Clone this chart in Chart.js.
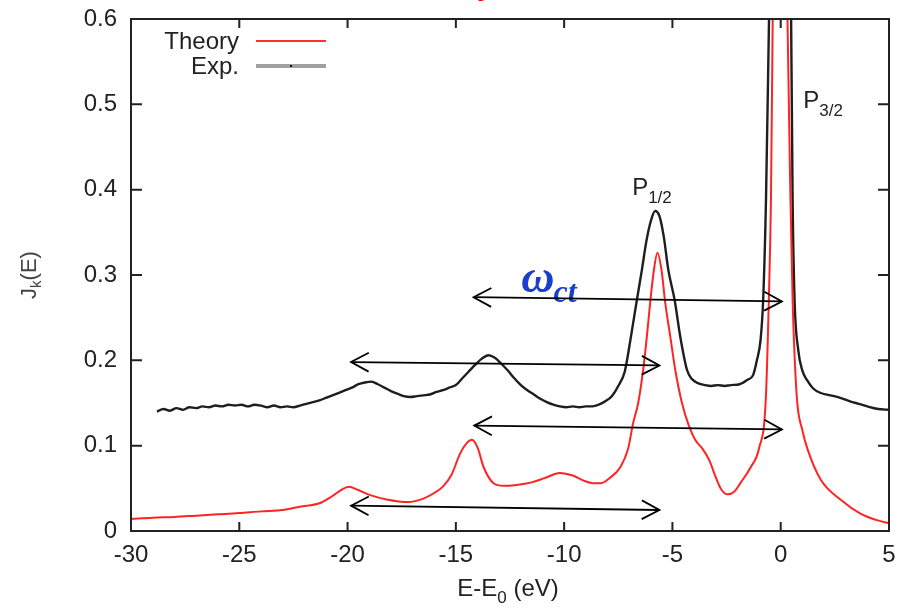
<!DOCTYPE html>
<html>
<head>
<meta charset="utf-8">
<script src="https://cdn.jsdelivr.net/npm/chart.js@4.4.1/dist/chart.umd.min.js"></script>
<style>
  html, body { margin: 0; padding: 0; background: #fff; }
</style>
</head>
<body>
<canvas id="myChart" width="900" height="609"></canvas>
<script>
/* 축 눈금 */
var xTicks = [-30, -25, -20, -15, -10, -5, 0, 5];
var yTicks = [0, 0.1, 0.2, 0.3, 0.4, 0.5, 0.6];
var yTickLabels = ['0', '0.1', '0.2', '0.3', '0.4', '0.5', '0.6'];

/* Theory (계산값) */
var theoryE = [-30, -29, -28, -27, -26, -25, -24, -23, -22.2, -21.3, -20.7, -20.3, -19.95, -19.5, -18.95,
  -18.2, -17.2, -16.5, -16.0, -15.6, -15.2, -14.8, -14.5, -14.26, -14.0, -13.72, -13.26, -12.8, -12.2,
  -11.5, -10.9, -10.2, -9.6, -9.1, -8.65, -8.3, -7.9, -7.4, -7.05, -6.81, -6.58, -6.35, -6.18, -6.03,
  -5.86, -5.69, -5.5, -5.33, -5.1, -4.87, -4.56, -4.25, -3.95, -3.6, -3.3, -3.0, -2.75, -2.45, -2.15,
  -1.84, -1.38, -1.0, -0.69, -0.55, -0.45, -0.37, -0.2, 0, 0.15, 0.3, 0.45, 0.55, 0.74, 1.0, 1.25,
  1.85, 2.8, 3.7, 4.4, 5.0];
var theoryJ = [0.014, 0.0155, 0.0165, 0.018, 0.0195, 0.021, 0.023, 0.0245, 0.0285, 0.0325, 0.041, 0.048, 0.052, 0.048, 0.042,
  0.037, 0.034, 0.038, 0.0445, 0.052, 0.066, 0.091, 0.103, 0.107, 0.098, 0.075, 0.056, 0.053, 0.054,
  0.057, 0.062, 0.068, 0.065, 0.059, 0.056, 0.056, 0.062, 0.075, 0.096, 0.127, 0.150, 0.189, 0.228, 0.267,
  0.305, 0.326, 0.305, 0.267, 0.228, 0.189, 0.150, 0.124, 0.107, 0.096, 0.083, 0.063, 0.049, 0.043, 0.046,
  0.057, 0.075, 0.097, 0.154, 0.27, 0.39, 0.60, 1.0, 1.4, 1.0, 0.62, 0.39, 0.27, 0.158, 0.118, 0.095,
  0.060, 0.036, 0.020, 0.013, 0.009];

/* Exp. (측정값) */
var expE = [-28.8, -28.5, -28.2, -27.9, -27.6, -27.3, -27.0, -26.7, -26.4, -26.1, -25.8, -25.5, -25.2, -24.9,
  -24.6, -24.3, -24.0, -23.7, -23.4, -23.1, -22.8, -22.5, -22.2, -21.9, -21.6, -21.3, -21.0, -20.7, -20.4,
  -20.1, -19.8, -19.5, -19.2, -18.9, -18.6, -18.3, -18.0, -17.7, -17.4, -17.1, -16.8, -16.5, -16.2, -15.9,
  -15.6, -15.3, -15.0, -14.7, -14.4, -14.1, -13.8, -13.5, -13.2, -12.9, -12.6, -12.3, -12.0, -11.7, -11.4,
  -11.1, -10.8, -10.5, -10.2, -9.9, -9.6, -9.3, -9.0, -8.7, -8.4, -8.1, -7.8, -7.5, -7.2, -6.94, -6.64,
  -6.41, -6.2, -6.0, -5.8, -5.6, -5.4, -5.19, -4.9, -4.64, -4.33, -4.1, -3.8, -3.5, -3.2, -2.9, -2.6, -2.3,
  -1.9, -1.55, -1.27, -1.1, -0.93, -0.81, -0.68, -0.54, -0.3, 0, 0.25, 0.48, 0.55, 0.64, 0.81, 1.0, 1.21,
  1.5, 1.82, 2.3, 2.75, 3.2, 3.6, 4.0, 4.5, 5.0];
var expJ = [0.140, 0.143, 0.141, 0.144, 0.142, 0.145, 0.144, 0.146, 0.145, 0.147, 0.146, 0.148, 0.147, 0.148,
  0.146, 0.148, 0.147, 0.145, 0.147, 0.145, 0.146, 0.145, 0.147, 0.149, 0.151, 0.153, 0.156, 0.159, 0.162,
  0.165, 0.168, 0.172, 0.174, 0.175, 0.172, 0.168, 0.164, 0.161, 0.158, 0.157, 0.158, 0.159, 0.160, 0.163,
  0.165, 0.168, 0.171, 0.179, 0.187, 0.195, 0.202, 0.206, 0.203, 0.196, 0.188, 0.179, 0.171, 0.165, 0.160,
  0.155, 0.151, 0.148, 0.146, 0.145, 0.146, 0.145, 0.146, 0.146, 0.148, 0.152, 0.158, 0.170, 0.187, 0.224, 0.271,
  0.306, 0.340, 0.363, 0.375, 0.369, 0.345, 0.306, 0.271, 0.228, 0.189, 0.178, 0.173, 0.171, 0.170, 0.171, 0.170, 0.171,
  0.172, 0.177, 0.183, 0.200, 0.224, 0.271, 0.388, 0.60, 0.95, 1.3, 0.95, 0.60, 0.388, 0.271, 0.212, 0.188, 0.177,
  0.167, 0.162, 0.159, 0.156, 0.152, 0.149, 0.146, 0.143, 0.142];

/* 양방향 화살표 [E1, J1, E2, J2] */
var arrows = [
  [-14.18, 0.274, 0.055, 0.269],
  [-19.84, 0.198, -5.60, 0.194],
  [-14.15, 0.1235, 0.055, 0.119],
  [-19.84, 0.0297, -5.60, 0.0246]
];

/* 피크 라벨 */
var peakLabels = [
  { text: 'P', sub: '1/2', e: -6.86, j: 0.394 },
  { text: 'P', sub: '3/2', e: 1.04, j: 0.496 }
];

var FONT = '"Liberation Sans", Arial, sans-serif';

function toPts(xs, ys) {
  return xs.map(function(v, i) { return { x: v, y: ys[i] }; });
}

/* 눈금 라벨 넘침 여백 제거 */
function noOverflow(s) {
  s.paddingLeft = 0; s.paddingRight = 0; s.paddingTop = 0; s.paddingBottom = 0;
}

/* 열린 화살촉 */
function arrowHead(ctx, fx, fy, tx, ty) {
  var ang = Math.atan2(ty - fy, tx - fx), L = 20, w = 0.49;
  ctx.beginPath();
  ctx.moveTo(tx - L * Math.cos(ang - w), ty - L * Math.sin(ang - w));
  ctx.lineTo(tx, ty);
  ctx.lineTo(tx - L * Math.cos(ang + w), ty - L * Math.sin(ang + w));
  ctx.stroke();
}

/* 아래첨자 텍스트 */
function subText(ctx, x, y, main, sub, size, subSize, drop) {
  ctx.font = size + 'px ' + FONT;
  ctx.fillText(main, x, y);
  var w = ctx.measureText(main).width;
  ctx.font = subSize + 'px ' + FONT;
  ctx.fillText(sub, x + w, y + drop);
  return w + ctx.measureText(sub).width;
}

var overlay = {
  id: 'overlay',
  afterDatasetsDraw: function(chart) {
    var ctx = chart.ctx, xs = chart.scales.x, ys = chart.scales.y, a = chart.chartArea;
    ctx.save();

    /* ω_ct */
    var wx = xs.getPixelForValue(-11.98), wy = ys.getPixelForValue(0.280);
    ctx.fillStyle = '#1b3fc9';
    ctx.textAlign = 'left';
    ctx.textBaseline = 'alphabetic';
    ctx.font = 'italic bold 46px "Liberation Serif", "DejaVu Serif", serif';
    ctx.fillText('\u03c9', wx, wy);
    var ww = ctx.measureText('\u03c9').width;
    ctx.font = 'italic bold 32px "Liberation Serif", "DejaVu Serif", serif';
    ctx.fillText('ct', wx + ww - 1, wy + 10);

    /* 화살표 */
    ctx.strokeStyle = '#000';
    ctx.lineWidth = 1.8;
    arrows.forEach(function(r) {
      var x1 = xs.getPixelForValue(r[0]), y1 = ys.getPixelForValue(r[1]);
      var x2 = xs.getPixelForValue(r[2]), y2 = ys.getPixelForValue(r[3]);
      ctx.beginPath();
      ctx.moveTo(x1, y1);
      ctx.lineTo(x2, y2);
      ctx.stroke();
      arrowHead(ctx, x1, y1, x2, y2);
      arrowHead(ctx, x2, y2, x1, y1);
    });

    /* P 라벨 */
    ctx.fillStyle = '#222';
    peakLabels.forEach(function(p) {
      subText(ctx, xs.getPixelForValue(p.e), ys.getPixelForValue(p.j), p.text, p.sub, 24, 17, 8);
    });

    /* 범례 */
    ctx.textAlign = 'right';
    ctx.font = '24px ' + FONT;
    ctx.fillText('Theory', a.left + 108, a.top + 30);
    ctx.fillText('Exp.', a.left + 108, a.top + 55);
    ctx.strokeStyle = '#ff3030';
    ctx.lineWidth = 2;
    ctx.beginPath();
    ctx.moveTo(a.left + 125, a.top + 22);
    ctx.lineTo(a.left + 195, a.top + 22);
    ctx.stroke();
    ctx.strokeStyle = '#a0a0a0';
    ctx.lineWidth = 4;
    ctx.beginPath();
    ctx.moveTo(a.left + 125, a.top + 47);
    ctx.lineTo(a.left + 195, a.top + 47);
    ctx.stroke();
    ctx.fillStyle = '#111';
    ctx.fillRect(a.left + 159, a.top + 46, 2, 2);
    ctx.restore();
  },
  afterDraw: function(chart) {
    var ctx = chart.ctx, xs = chart.scales.x, ys = chart.scales.y, a = chart.chartArea;
    ctx.save();
    /* 테두리와 안쪽 눈금 */
    ctx.strokeStyle = '#222';
    ctx.lineWidth = 2;
    ctx.strokeRect(a.left, a.top, a.right - a.left, a.bottom - a.top);
    ctx.beginPath();
    xTicks.forEach(function(v) {
      var x = xs.getPixelForValue(v);
      ctx.moveTo(x, a.bottom); ctx.lineTo(x, a.bottom - 9);
      ctx.moveTo(x, a.top); ctx.lineTo(x, a.top + 9);
    });
    yTicks.forEach(function(v) {
      var y = ys.getPixelForValue(v);
      ctx.moveTo(a.left, y); ctx.lineTo(a.left + 11, y);
      ctx.moveTo(a.right, y); ctx.lineTo(a.right - 11, y);
    });
    ctx.stroke();

    /* 축 제목 */
    ctx.fillStyle = '#222';
    ctx.textAlign = 'left';
    ctx.textBaseline = 'alphabetic';
    ctx.font = '24px ' + FONT;
    var w1 = ctx.measureText('E-E').width, w2 = ctx.measureText(' (eV)').width;
    ctx.font = '17px ' + FONT;
    var w0 = ctx.measureText('0').width;
    var tx = (a.left + a.right) / 2 - (w1 + w0 + w2) / 2 - 2;
    ctx.font = '24px ' + FONT;
    ctx.fillText('E-E', tx, 596);
    ctx.font = '17px ' + FONT;
    ctx.fillText('0', tx + w1, 603);
    ctx.font = '24px ' + FONT;
    ctx.fillText(' (eV)', tx + w1 + w0, 596);

    ctx.translate(36, (a.top + a.bottom) / 2);
    ctx.rotate(-Math.PI / 2);
    ctx.fillStyle = '#444';
    ctx.font = '22px ' + FONT;
    var jw = ctx.measureText('J').width, ew = ctx.measureText('(E)').width;
    ctx.font = '15px ' + FONT;
    var kw = ctx.measureText('k').width;
    var jx = -(jw + kw + ew) / 2;
    ctx.font = '22px ' + FONT;
    ctx.fillText('J', jx, 0);
    ctx.font = '15px ' + FONT;
    ctx.fillText('k', jx + jw, 5);
    ctx.font = '22px ' + FONT;
    ctx.fillText('(E)', jx + jw + kw, 0);
    ctx.setTransform(1, 0, 0, 1, 0, 0);

    /* 위쪽 제목 꼬리 */
    ctx.fillStyle = '#f00';
    ctx.font = 'italic bold 36px "Liberation Serif", serif';
    ctx.fillText('y', 482, -7);
    ctx.restore();
  }
};

function createChart() {
  var ctx = document.getElementById('myChart').getContext('2d');
  var myChart = new Chart(ctx, {
    type: 'scatter',
    data: {
      datasets: [{
        label: 'Theory',
        data: toPts(theoryE, theoryJ),
        showLine: true,
        borderColor: '#ff2424',
        borderWidth: 2,
        pointRadius: 0,
        cubicInterpolationMode: 'monotone'
      }, {
        label: 'Exp.',
        data: toPts(expE, expJ),
        showLine: true,
        borderColor: '#1e1e1e',
        borderWidth: 2.4,
        pointRadius: 0,
        cubicInterpolationMode: 'monotone'
      }]
    },
    options: {
      responsive: false,
      animation: false,
      devicePixelRatio: 1,
      layout: { padding: { top: 19, right: 11, left: 0, bottom: 0 } },
      plugins: { legend: { display: false }, tooltip: { enabled: false } },
      scales: {
        x: {
          type: 'linear',
          min: -30,
          max: 5,
          afterBuildTicks: function(s) { s.ticks = xTicks.map(function(v) { return { value: v }; }); },
          afterFit: function(s) { s.height = 78; noOverflow(s); },
          grid: { display: false, drawTicks: false },
          border: { display: false },
          ticks: { font: { family: FONT, size: 24 }, color: '#222', padding: 10, maxRotation: 0 }
        },
        y: {
          min: 0,
          max: 0.6,
          afterBuildTicks: function(s) { s.ticks = yTicks.map(function(v) { return { value: v }; }); },
          afterFit: function(s) { s.width = 131; noOverflow(s); },
          grid: { display: false, drawTicks: false },
          border: { display: false },
          ticks: {
            font: { family: FONT, size: 24 }, color: '#222', padding: 14,
            callback: function(v, i) { return yTickLabels[i]; }
          }
        }
      }
    },
    plugins: [overlay]
  });
}

createChart();
</script>
</body>
</html>
